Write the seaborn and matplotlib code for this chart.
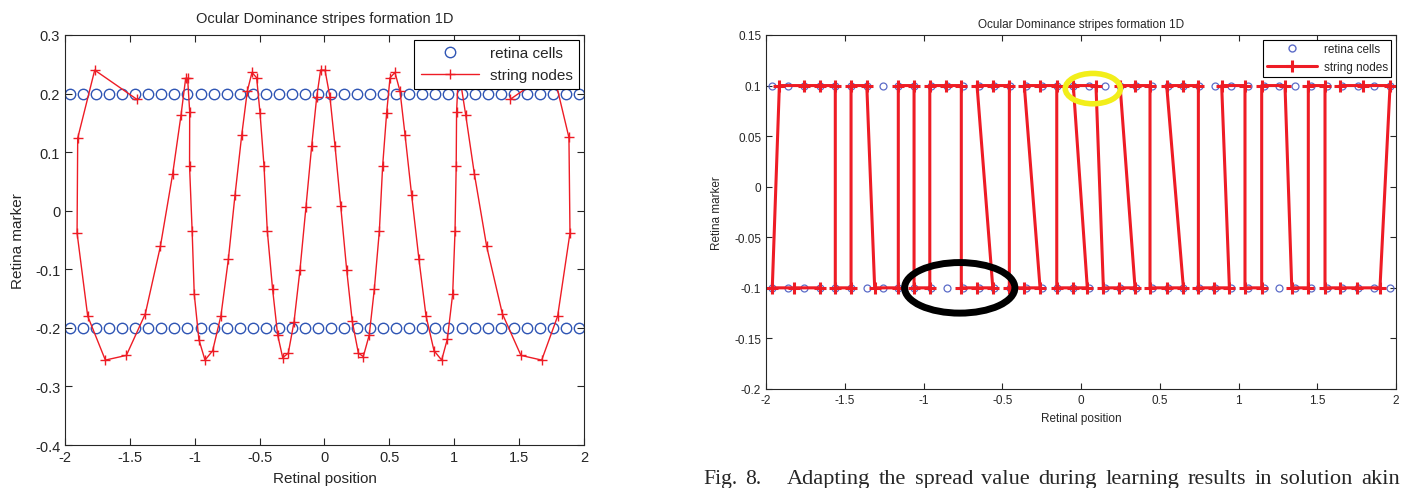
import numpy as np
import pandas as pd
import seaborn as sns
import matplotlib.pyplot as plt
from matplotlib.lines import Line2D
from matplotlib.patches import Ellipse

# retina cell positions (same for both panels)
retina_x = [-1.96, -1.86, -1.76, -1.66, -1.56, -1.46, -1.36, -1.26, -1.16, -1.06,
            -0.95, -0.85, -0.75, -0.65, -0.55, -0.45, -0.35, -0.25, -0.15, -0.05,
            0.05, 0.15, 0.25, 0.35, 0.45, 0.55, 0.65, 0.75, 0.85, 0.95,
            1.06, 1.16, 1.26, 1.36, 1.46, 1.56, 1.66, 1.76, 1.86, 1.96]
left_rows = [0.2, -0.2]
right_rows = [0.1, -0.1]

# left panel: string nodes, in string order
left_x = [-1.445, -1.771, -1.902, -1.907, -1.825, -1.689, -1.527, -1.381, -1.265, -1.170,
          -1.106, -1.070, -1.055, -1.039, -1.040, -1.020, -1.004, -0.968, -0.921, -0.862,
          -0.798, -0.741, -0.690, -0.638, -0.595, -0.559, -0.523, -0.497, -0.466, -0.441,
          -0.400, -0.361, -0.322, -0.279, -0.235, -0.189, -0.143, -0.099, -0.060, -0.030,
          0.004, 0.042, 0.081, 0.125, 0.171, 0.214, 0.261, 0.299, 0.345, 0.384,
          0.423, 0.448, 0.479, 0.505, 0.543, 0.582, 0.621, 0.672, 0.728, 0.782,
          0.844, 0.903, 0.947, 0.988, 1.006, 1.015, 1.018, 1.030, 1.045, 1.088,
          1.155, 1.250, 1.371, 1.514, 1.674, 1.797, 1.892, 1.884, 1.760, 1.430]
left_y = [0.190, 0.240, 0.124, -0.038, -0.180, -0.255, -0.247, -0.176, -0.061, 0.063,
          0.163, 0.226, 0.226, 0.169, 0.076, -0.035, -0.142, -0.220, -0.255, -0.239,
          -0.179, -0.083, 0.026, 0.129, 0.204, 0.236, 0.227, 0.167, 0.076, -0.034,
          -0.134, -0.212, -0.251, -0.243, -0.190, -0.101, 0.006, 0.110, 0.194, 0.240,
          0.240, 0.194, 0.111, 0.008, -0.101, -0.189, -0.243, -0.249, -0.212, -0.134,
          -0.034, 0.076, 0.167, 0.227, 0.236, 0.204, 0.129, 0.026, -0.083, -0.179,
          -0.239, -0.255, -0.219, -0.142, -0.035, 0.076, 0.169, 0.225, 0.225, 0.164,
          0.063, -0.061, -0.176, -0.247, -0.255, -0.180, -0.038, 0.125, 0.240, 0.190]

# right panel: string nodes, in string order
right_x = [-1.66, -1.82, -1.96, -1.915, -1.76, -1.66, -1.56, -1.56, -1.46, -1.46,
           -1.36, -1.31, -1.16, -1.16, -1.06, -1.06, -0.96, -0.96, -0.86, -0.76,
           -0.76, -0.66, -0.56, -0.66, -0.56, -0.455, -0.455, -0.36, -0.26, -0.36,
           -0.26, -0.154, -0.154, -0.05, 0.04, -0.049, 0.095, 0.142, 0.243, 0.343,
           0.248, 0.343, 0.438, 0.438, 0.544, 0.650, 0.544, 0.650, 0.745, 0.745,
           0.844, 0.942, 0.893, 1.041, 1.041, 1.147, 1.147, 1.295, 1.338, 1.443,
           1.443, 1.549, 1.549, 1.645, 1.75, 1.898, 1.962, 1.793, 1.645]
right_y = [-0.1, -0.1, -0.1, 0.1, 0.1, 0.1, 0.1, -0.1, -0.1, 0.1,
           0.1, -0.1, -0.1, 0.1, 0.1, -0.1, -0.1, 0.1, 0.1, 0.1,
           -0.1, -0.1, -0.1, 0.1, 0.1, 0.1, -0.1, -0.1, -0.1, 0.1,
           0.1, 0.1, -0.1, -0.1, -0.1, 0.1, 0.1, -0.1, -0.1, -0.1,
           0.1, 0.1, 0.1, -0.1, -0.1, -0.1, 0.1, 0.1, 0.1, -0.1,
           -0.1, -0.1, 0.1, 0.1, -0.1, -0.1, 0.1, 0.1, -0.1, -0.1,
           0.1, 0.1, -0.1, -0.1, -0.1, -0.1, 0.1, 0.1, 0.1]

# hand drawn highlight ellipses on the right panel: (x, y, w, h)
black_ring = (-0.77, -0.1, 0.70, 0.050)
yellow_ring = (0.075, 0.097, 0.35, 0.030)

xticks = [-2, -1.5, -1, -0.5, 0, 0.5, 1, 1.5, 2]
xtick_labels = ["-2", "-1.5", "-1", "-0.5", "0", "0.5", "1", "1.5", "2"]
left_yticks = [-0.4, -0.3, -0.2, -0.1, 0, 0.1, 0.2, 0.3]
left_ytick_labels = ["-0.4", "-0.3", "-0.2", "-0.1", "0", "0.1", "0.2", "0.3"]
right_yticks = [-0.2, -0.15, -0.1, -0.05, 0, 0.05, 0.1, 0.15]
right_ytick_labels = ["-0.2", "-0.15", "-0.1", "-0.05", "0", "0.05", "0.1", "0.15"]

caption_label = ["Fig.", "8."]
caption_words = ["Adapting", "the", "spread", "value", "during", "learning",
                 "results", "in", "solution", "akin"]

BLUE = "#2f55b4"
RED = "#ee1c25"

sns.set_style("ticks")
plt.rcParams["font.family"] = ["Liberation Sans", "DejaVu Sans"]
plt.rcParams["axes.unicode_minus"] = False
plt.rcParams["xtick.direction"] = "in"
plt.rcParams["ytick.direction"] = "in"
plt.rcParams["xtick.top"] = True
plt.rcParams["ytick.right"] = True

W, H = 1413, 489
fig = plt.figure(figsize=(W / 100, H / 100), dpi=100)
ax1 = fig.add_axes([0.046, 0.0879, 0.3673, 0.8385])
ax2 = fig.add_axes([0.5421, 0.2025, 0.4459, 0.7239])

cells = pd.DataFrame({"x": retina_x * 2,
                      "row": [r for r in left_rows for _ in retina_x]})
cells["row_r"] = [r for r in right_rows for _ in retina_x]

# ---- left panel
sns.lineplot(x="x", y="row", data=cells, units="row", estimator=None, sort=False,
             lw=0, marker="o", markersize=7.5, markerfacecolor="none",
             markeredgecolor=BLUE, markeredgewidth=1.0, ax=ax1)
left_df = pd.DataFrame({"x": left_x, "y": left_y})
sns.lineplot(x="x", y="y", data=left_df, sort=False, estimator=None, color=RED,
             lw=1.0, marker="+", markersize=7, markeredgewidth=1.0,
             markeredgecolor=RED, ax=ax1)

ax1.set_xlim(-2, 2)
ax1.set_ylim(-0.4, 0.3)
ax1.set_xticks(xticks)
ax1.set_xticklabels(xtick_labels)
ax1.set_yticks(left_yticks)
ax1.set_yticklabels(left_ytick_labels)
ax1.tick_params(labelsize=10.5, length=5, width=0.8)
ax1.set_title("Ocular Dominance stripes formation 1D", fontsize=10.5, pad=9)
ax1.set_xlabel("Retinal position", fontsize=11, labelpad=5)
ax1.set_ylabel("Retina marker", fontsize=11, labelpad=7)
h1 = [Line2D([], [], lw=0, marker="o", markersize=7.5, markerfacecolor="none",
             markeredgecolor=BLUE),
      Line2D([], [], color=RED, lw=1.0, marker="+", markersize=7)]
leg1 = ax1.legend(h1, ["retina cells", "string nodes"], loc="upper right",
                  fontsize=11, fancybox=False, framealpha=1, edgecolor="black",
                  borderaxespad=0.3, handlelength=3.8, handletextpad=0.7,
                  labelspacing=0.5, borderpad=0.45)
leg1.get_frame().set_linewidth(0.8)

# ---- right panel
sns.lineplot(x="x", y="row_r", data=cells, units="row_r", estimator=None, sort=False,
             lw=0, marker="o", markersize=5, markerfacecolor="none",
             markeredgecolor="#5c6cc8", markeredgewidth=0.9, ax=ax2)
right_df = pd.DataFrame({"x": right_x, "y": right_y})
sns.lineplot(x="x", y="y", data=right_df, sort=False, estimator=None, color=RED,
             lw=2.2, marker="+", markersize=8, markeredgewidth=2.2,
             markeredgecolor=RED, ax=ax2)

for (cx, cy, w, h), col, lw in [(black_ring, "black", 5), (yellow_ring, "#f2ee1a", 4)]:
    ax2.add_patch(Ellipse((cx, cy), w, h, fill=False, edgecolor=col, lw=lw, zorder=5))

ax2.set_xlim(-2, 2)
ax2.set_ylim(-0.2, 0.15)
ax2.set_xticks(xticks)
ax2.set_xticklabels(xtick_labels)
ax2.set_yticks(right_yticks)
ax2.set_yticklabels(right_ytick_labels)
ax2.tick_params(labelsize=8.5, length=4, width=0.8)
ax2.set_title("Ocular Dominance stripes formation 1D", fontsize=8.5, pad=6)
ax2.set_xlabel("Retinal position", fontsize=8.5, labelpad=4.5)
ax2.set_ylabel("Retina marker", fontsize=8.5, labelpad=8)
h2 = [Line2D([], [], lw=0, marker="o", markersize=5, markerfacecolor="none",
             markeredgecolor="#5c6cc8"),
      Line2D([], [], color=RED, lw=2.2, marker="+", markersize=8, markeredgewidth=2.2)]
leg2 = ax2.legend(h2, ["retina cells", "string nodes"], loc="upper right",
                  fontsize=8.5, fancybox=False, framealpha=1, edgecolor="black",
                  borderaxespad=0.4, handlelength=4.2, handletextpad=0.6,
                  labelspacing=0.5, borderpad=0.3)
leg2.get_frame().set_linewidth(0.8)

# ---- caption, words justified between 787 px and 1400 px
cap_kw = dict(family=["Liberation Serif", "DejaVu Serif"], va="baseline", ha="left")
cap_y = 1 - 484 / H
fig.text(703 / W, cap_y, caption_label[0], fontsize=15.6, **cap_kw)
fig.text(745 / W, cap_y, caption_label[1], fontsize=15.6, **cap_kw)
renderer = fig.canvas.get_renderer()
texts = [fig.text(0, cap_y, w, fontsize=16.1, **cap_kw) for w in caption_words]
widths = [t.get_window_extent(renderer).width for t in texts]
gap = (1400 - 787 - sum(widths)) / (len(texts) - 1)
x = 787
for t, w in zip(texts, widths):
    t.set_x(x / W)
    x += w + gap

fig.savefig("out.png", dpi=100)
